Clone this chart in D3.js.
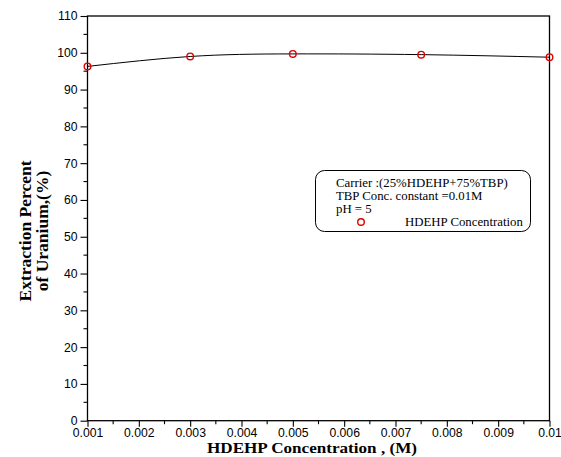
<!DOCTYPE html>
<html><head><meta charset="utf-8">
<script src="https://cdn.jsdelivr.net/npm/d3@7/dist/d3.min.js"></script>
<style>body{margin:0;background:#fff}</style>
</head><body>
<svg id="c" width="561" height="457"></svg>
<script>
const concentrations = [0.001, 0.003, 0.005, 0.0075, 0.01];
const extraction = [96.3, 99.0, 99.7, 99.5, 98.8];
const xTicks = [0.001,0.002,0.003,0.004,0.005,0.006,0.007,0.008,0.009,0.01];
const yTicks = [0,10,20,30,40,50,60,70,80,90,100,110];
const legendLines = ["Carrier :(25%HDEHP+75%TBP)", "TBP Conc. constant =0.01M", "pH  = 5"];
const seriesName = "HDEHP Concentration";

const svg = d3.select("#c");
const L = 87.5, R = 549.5, T = 16, B = 420.7;
const x = d3.scaleLinear().domain([0.001, 0.01]).range([L, R]);
const y = d3.scaleLinear().domain([0, 110]).range([B, T]);
const serif = "'Liberation Serif', 'Times New Roman', serif";

// frame
svg.append("rect").attr("x", L).attr("y", T).attr("width", R - L).attr("height", B - T)
  .attr("fill", "none").attr("stroke", "#000").attr("stroke-width", 1.3);

// x axis
const xAxis = svg.append("g").attr("transform", `translate(0,${B})`)
  .call(d3.axisBottom(x).tickValues(xTicks).tickSize(6).tickPadding(2)
    .tickFormat(d => d === 0.01 ? "0.01" : d3.format(".3f")(d)));
xAxis.select(".domain").remove();
const xMinor = xTicks.slice(0, -1).map((d, i) => (d + xTicks[i + 1]) / 2);
svg.append("g").selectAll("line").data(xMinor).join("line")
  .attr("x1", d => x(d)).attr("x2", d => x(d)).attr("y1", B).attr("y2", B + 3.5)
  .attr("stroke", "#000").attr("stroke-width", 1.1);

// y axis
const yAxis = svg.append("g").attr("transform", `translate(${L},0)`)
  .call(d3.axisLeft(y).tickValues(yTicks).tickSize(7).tickPadding(3));
yAxis.select(".domain").remove();
const yMinor = yTicks.slice(0, -1).map((d, i) => (d + yTicks[i + 1]) / 2);
svg.append("g").selectAll("line").data(yMinor).join("line")
  .attr("x1", L - 4).attr("x2", L).attr("y1", d => y(d)).attr("y2", d => y(d))
  .attr("stroke", "#000").attr("stroke-width", 1.1);

svg.selectAll(".tick line").attr("stroke", "#000").attr("stroke-width", 1.1);
svg.selectAll(".tick text").attr("font-family", "'Liberation Sans', Arial, sans-serif")
  .attr("font-size", 12.2).attr("fill", "#000");

// line
const pts = concentrations.map((c, i) => [c, extraction[i]]);
svg.append("path").datum(pts)
  .attr("d", d3.line().x(d => x(d[0])).y(d => y(d[1])).curve(d3.curveNatural))
  .attr("fill", "none").attr("stroke", "#000").attr("stroke-width", 1);

svg.append("g").selectAll("circle").data(pts).join("circle")
  .attr("cx", d => x(d[0])).attr("cy", d => y(d[1])).attr("r", 3.3)
  .attr("fill", "none").attr("stroke", "#e00000").attr("stroke-width", 1.4);

// axis titles
svg.append("text").attr("x", 312).attr("y", 453.3).attr("text-anchor", "middle")
  .attr("font-family", serif).attr("font-weight", "bold")
  .attr("font-size", 15).attr("textLength", 210).attr("lengthAdjust", "spacingAndGlyphs")
  .text("HDEHP Concentration , (M)");
const yt = svg.append("text").attr("transform", "translate(0,231) rotate(-90)")
  .attr("text-anchor", "middle")
  .attr("font-family", serif).attr("font-weight", "bold")
  .attr("font-size", 17.5);
yt.append("tspan").attr("x", 0).attr("y", 31).text("Extraction Percent");
yt.append("tspan").attr("x", 0).attr("y", 48).text("of Uranium,(%)");

// legend
const lg = svg.append("g");
lg.append("rect").attr("x", 315.5).attr("y", 170.5).attr("width", 215).attr("height", 61)
  .attr("rx", 9).attr("fill", "#fff").attr("stroke", "#000").attr("stroke-width", 1);
lg.selectAll("text.l").data(legendLines).join("text").attr("class", "l")
  .attr("x", 336).attr("y", (d, i) => 187 + i * 13)
  .attr("font-family", serif).attr("font-size", 12.8)
  .text(d => d);
lg.append("circle").attr("cx", 361).attr("cy", 222).attr("r", 3.3)
  .attr("fill", "none").attr("stroke", "#e00000").attr("stroke-width", 1.4);
lg.append("text").attr("x", 405).attr("y", 226)
  .attr("font-family", serif).attr("font-size", 12.8)
  .text(seriesName);
</script>
</body></html>
